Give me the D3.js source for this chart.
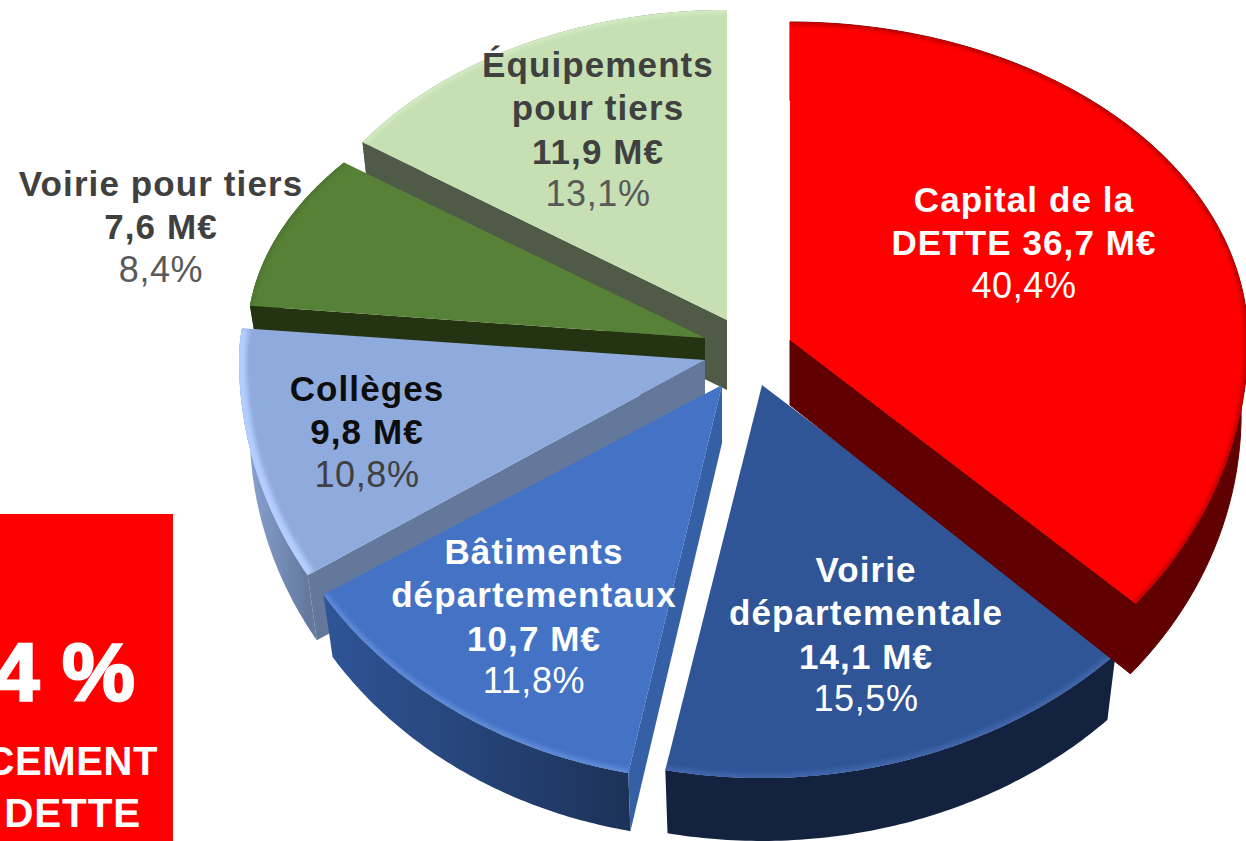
<!DOCTYPE html>
<html lang="fr">
<head>
<meta charset="utf-8">
<script src="https://cdnjs.cloudflare.com/ajax/libs/d3/7.8.5/d3.min.js"></script>
<style>
html, body { margin: 0; padding: 0; background: #fff; overflow: hidden; }
svg { display: block; font-family: "Liberation Sans", Arial, sans-serif; }
</style>
</head>
<body>
<svg id="chart" width="1246" height="841"></svg>
<script>
// values
var categories = ["Capital de la DETTE", "Voirie départementale", "Bâtiments départementaux", "Collèges", "Voirie pour tiers", "Équipements pour tiers"];
var amounts = [36.7, 14.1, 10.7, 9.8, 7.6, 11.9];
var amountLabels = ["36,7 M€", "14,1 M€", "10,7 M€", "9,8 M€", "7,6 M€", "11,9 M€"];
var shareLabels = ["40,4%", "15,5%", "11,8%", "10,8%", "8,4%", "13,1%"];

// the 3d view squeezes the slices unevenly, so data angle -> rim angle goes through a scale (degrees)
var rimAngles = [0, 132, 191.5, 238, 276.5, 305, 360];
var nudges = [[0, -1], [1.2, 0], [0, 0], [0.5, 0], [0, 3], [0, 0]];

// per slice geometry, same order as categories
var layout = [
    { cx: 790, cy: 340, rx: 458, ryBack: 318, ryFront: 402, depth: 74, tipDepth: 65, shrink: 0.985, wall: "end", top: "#ff0000", wallFill: "#600000", bevel: "#b00000", bevelWidth: 5, side: "#600000", side2: "#600000" },
    { cx: 762, cy: 385, rx: 485, ryBack: 318, ryFront: 393, depth: 72, tipDepth: 72, shrink: 0.977, wall: null, top: "#2f5597", wallFill: "#2f5597", bevel: "#3f66ab", bevelWidth: 8, side: "#13233f", side2: "#13233f" },
    { cx: 722, cy: 385, rx: 470, ryBack: 318, ryFront: 396, depth: 67, tipDepth: 58, shrink: 0.977, wall: "start", top: "#4472c4", wallFill: "#3560a5", bevel: "#5f8ad8", bevelWidth: 8, side: "#2f5597", side2: "#1c3258" },
    { cx: 705, cy: 360, rx: 466, ryBack: 280, ryFront: 412, depth: 70, tipDepth: 70, shrink: 0.977, wall: "start", top: "#8faadc", wallFill: "#64789c", bevel: "#b4ceff", bevelWidth: 14, side: "#8ea8d8", side2: "#65799f" },
    { cx: 705, cy: 338, rx: 458, ryBack: 285, ryFront: 393, depth: 62, tipDepth: 62, shrink: 0.977, wall: "start", top: "#578136", wallFill: "#243412", bevel: "#4d7430", bevelWidth: 6, side: "#243412", side2: "#243412" },
    { cx: 727, cy: 320, rx: 445, ryBack: 310, ryFront: 393, depth: 70, tipDepth: 70, shrink: 0.977, wall: "start", top: "#c6e0b4", wallFill: "#4f5a47", bevel: "#d5ecc5", bevelWidth: 6, side: "#4f5a47", side2: "#4f5a47" }
];
var drawOrder = [5, 4, 3, 2, 1, 0];

// text blocks
var labels = [
    { x: 1024, y: 212, lines: ["Capital de la", "DETTE " + amountLabels[0]], share: shareLabels[0], color: "#ffffff", shareColor: "#ffffff" },
    { x: 866, y: 582, lines: ["Voirie", "départementale", amountLabels[1]], share: shareLabels[1], color: "#ffffff", shareColor: "#ffffff" },
    { x: 534, y: 564, lines: ["Bâtiments", "départementaux", amountLabels[2]], share: shareLabels[2], color: "#ffffff", shareColor: "#ffffff" },
    { x: 367, y: 401, lines: ["Collèges", amountLabels[3]], share: shareLabels[3], color: "#0d0d0d", shareColor: "#404040" },
    { x: 161, y: 196, lines: ["Voirie pour tiers", amountLabels[4]], share: shareLabels[4], color: "#404040", shareColor: "#595959" },
    { x: 598, y: 77, lines: ["Équipements", "pour tiers", amountLabels[5]], share: shareLabels[5], color: "#404040", shareColor: "#595959" }
];

var svg = d3.select("#chart");
var defs = svg.append("defs");
defs.append("filter").attr("id", "soft").attr("x", "-20%").attr("y", "-20%").attr("width", "140%").attr("height", "140%")
    .append("feGaussianBlur").attr("stdDeviation", 2.2);

var slices = d3.pie().sort(null).value(function (d) { return d; })(amounts);
var angleDomain = [0].concat(slices.map(function (s) { return s.endAngle; }));
var rimAngle = d3.scaleLinear().domain(angleDomain).range(rimAngles);
var line = d3.line();

function rimPoint(g, deg, shrink, drop) {
    var a = deg * Math.PI / 180, c = Math.cos(a),
        ry = c > 0 ? g.ryBack : g.ryFront;
    return [g.cx + g.rx * shrink * Math.sin(a), g.cy - ry * shrink * c + drop];
}
function rimArc(g, a0, a1, shrink, drop) {
    return d3.range(0, 81).map(function (i) {
        return rimPoint(g, a0 + (a1 - a0) * i / 80, shrink, drop);
    });
}

drawOrder.forEach(function (idx) {
    var s = slices[idx], g = layout[idx],
        a0 = rimAngle(s.startAngle) + nudges[idx][0],
        a1 = rimAngle(s.endAngle) + nudges[idx][1],
        top = rimArc(g, a0, a1, 1, 0),
        bottom = rimArc(g, a0, a1, g.shrink, g.depth),
        layer = svg.append("g").attr("class", "slice").attr("data-name", categories[idx]);

    // outer side
    var grad = defs.append("linearGradient").attr("id", "side" + idx).attr("gradientUnits", "userSpaceOnUse")
        .attr("x1", d3.min(top, function (p) { return p[0]; })).attr("x2", d3.max(top, function (p) { return p[0]; }))
        .attr("y1", 0).attr("y2", 0);
    grad.append("stop").attr("offset", 0).attr("stop-color", g.side);
    grad.append("stop").attr("offset", 1).attr("stop-color", g.side2);
    layer.append("path")
        .attr("d", line(top.concat(bottom.slice().reverse())) + "Z")
        .attr("fill", "url(#side" + idx + ")")
        .attr("stroke", idx === 0 ? g.side : "none")
        .attr("stroke-width", 1);

    // cut face
    if (g.wall) {
        var deg = g.wall === "start" ? a0 : a1;
        layer.append("path")
            .attr("d", line([[g.cx, g.cy], rimPoint(g, deg, 1, 0), rimPoint(g, deg, g.shrink, g.depth), [g.cx, g.cy + g.tipDepth]]) + "Z")
            .attr("fill", g.wallFill)
            .attr("stroke", idx === 0 ? g.wallFill : "none")
            .attr("stroke-width", 1);
    }

    // top face with a soft bevel along the rim
    var outline = line([[g.cx, g.cy]].concat(top)) + "Z";
    defs.append("clipPath").attr("id", "clip" + idx).append("path").attr("d", outline);
    layer.append("path").attr("d", outline).attr("fill", g.top);
    layer.append("g").attr("clip-path", "url(#clip" + idx + ")")
        .append("path")
        .attr("d", line(top))
        .attr("fill", "none")
        .attr("stroke", g.bevel)
        .attr("stroke-width", g.bevelWidth)
        .attr("filter", "url(#soft)");
});

// labels
var LINE = 43.3;
labels.forEach(function (l) {
    var t = svg.append("g").attr("text-anchor", "middle").attr("transform", "translate(" + l.x + "," + l.y + ")");
    l.lines.forEach(function (txt, i) {
        t.append("text").attr("y", i * LINE).attr("fill", l.color)
            .attr("font-size", 35).attr("font-weight", 700).attr("letter-spacing", 1.1).text(txt);
    });
    t.append("text").attr("y", l.lines.length * LINE - 1).attr("fill", l.shareColor)
        .attr("font-size", 36).attr("letter-spacing", 0.6).text(l.share);
});

// red box, cut by the left edge of the picture
svg.append("rect").attr("x", -10).attr("y", 514).attr("width", 183).attr("height", 337).attr("fill", "#ff0000");
svg.append("text").attr("x", 135).attr("y", 700).attr("text-anchor", "end").attr("fill", "#fff")
    .attr("font-size", 82).attr("font-weight", 700)
    .attr("stroke", "#fff").attr("stroke-width", 2.5).text("4 %");
svg.append("text").attr("x", 158).attr("y", 775).attr("text-anchor", "end").attr("fill", "#fff")
    .attr("font-size", 40).attr("font-weight", 700).attr("letter-spacing", 0.6).text("CEMENT");
svg.append("text").attr("x", 141).attr("y", 827).attr("text-anchor", "end").attr("fill", "#fff")
    .attr("font-size", 40.5).attr("font-weight", 700).attr("letter-spacing", 0.8).text("DETTE");
</script>
</body>
</html>
